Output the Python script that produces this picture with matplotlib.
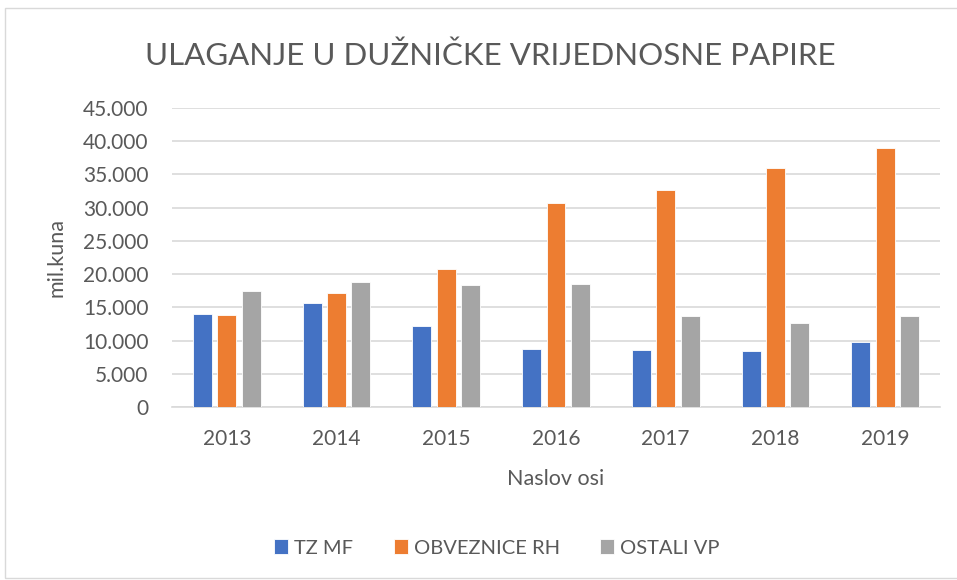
import matplotlib
matplotlib.use("Agg")
import matplotlib.pyplot as plt
import numpy as np
from matplotlib.ticker import FuncFormatter, MultipleLocator
from matplotlib.patches import Rectangle

years = ["2013", "2014", "2015", "2016", "2017", "2018", "2019"]
tz_mf = [13930, 15590, 12220, 8700, 8550, 8400, 9810]
obveznice_rh = [13830, 17100, 20830, 30630, 32600, 35970, 39030]
ostali_vp = [17500, 18760, 18410, 18560, 13730, 12680, 13630]
series_names = ["TZ MF", "OBVEZNICE RH", "OSTALI VP"]
colors = ["#4472C4", "#ED7D31", "#A5A5A5"]

plt.rcParams['font.family'] = ['Lato', 'DejaVu Sans']
txt = "#595959"

fig = plt.figure(figsize=(9.57, 5.8), dpi=100)
W, H = 957, 580
ax = fig.add_axes([172 / W, 1 - 407 / H, (940 - 172) / W, (407 - 108) / H])

# chart border
fig.patches.append(Rectangle((5 / W, 2 / H), 1.2, 1 - 10 / H, transform=fig.transFigure,
                             fill=False, edgecolor="#D9D9D9", linewidth=1))

x = np.arange(len(years))
bw = 0.173
step = 0.222
for i, (vals, name, c) in enumerate(zip([tz_mf, obveznice_rh, ostali_vp], series_names, colors)):
    ax.bar(x + (i - 1) * step, vals, width=bw, color=c, label=name,
           edgecolor="white", linewidth=0.6, zorder=3)

ax.set_xlim(-0.5, len(years) - 0.5)
ax.set_ylim(0, 45000)
ax.yaxis.set_major_locator(MultipleLocator(5000))
ax.yaxis.set_major_formatter(FuncFormatter(lambda v, p: f"{int(v):,}".replace(",", ".")))
ax.set_xticks(x)
ax.set_xticklabels(years)
ax.grid(axis="y", color="#D9D9D9", linewidth=1.2, zorder=0)
for s in ["top", "right", "left"]:
    ax.spines[s].set_visible(False)
ax.spines["bottom"].set_color("#D9D9D9")
ax.spines["bottom"].set_linewidth(1.2)
ax.tick_params(axis="both", length=0, labelsize=15, labelcolor=txt)
ax.tick_params(axis="x", pad=16)
ax.tick_params(axis="y", pad=17)

ax.set_xlabel("Naslov osi", fontsize=15.5, color=txt, labelpad=14)
ax.set_ylabel("mil.kuna", fontsize=15.5, color=txt, labelpad=12)

fig.text(490 / W, 1 - 56 / H, "ULAGANJE U DUŽNIČKE VRIJEDNOSNE PAPIRE",
         ha="center", va="center", fontsize=22.5, color=txt, fontweight="normal")

fig.legend(loc="center", bbox_to_anchor=(497 / W, 1 - 548 / H), ncol=3, frameon=False,
           fontsize=14.5, labelcolor=txt, handlelength=0.7, handleheight=0.7,
           handletextpad=0.3, columnspacing=2.0)

fig.savefig("out.png", dpi=100, facecolor="white")
